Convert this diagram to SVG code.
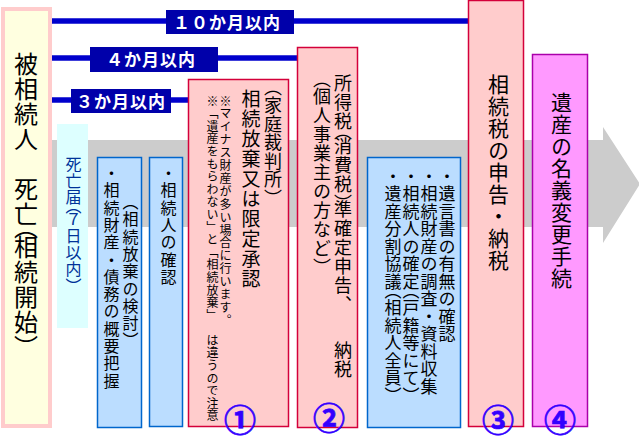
<svg xmlns="http://www.w3.org/2000/svg" width="639" height="439" viewBox="0 0 639 439">
<style>
text{font-family:"Liberation Sans","Noto Sans CJK JP",sans-serif;}
.v{writing-mode:vertical-rl;fill:#000;}
.h{font-feature-settings:"vhal" 1;}
.lbl{fill:#0000AA;}
.lt{fill:#fff;font-size:17px;font-weight:bold;letter-spacing:1px;text-anchor:middle;}
.bar{stroke:#0000CC;stroke-width:5.5;}
.pink{fill:#FFCCCC;stroke:#D4003A;stroke-width:1.5;}
.blue{fill:#BBDDFF;stroke:#0066CC;stroke-width:1.5;}
.num{fill:#3300FF;stroke:#3300FF;stroke-width:0.7;font-size:32px;font-weight:bold;text-anchor:middle;}
</style>
<polygon id="flow-arrow" points="52,140 603,140 603,127 640,184 603,243 603,227 52,227" fill="#CCCCCC"/>
<g id="connectors">
<line class="bar" x1="52" y1="21" x2="468" y2="21"/>
<line class="bar" x1="52" y1="58" x2="297" y2="58"/>
<line class="bar" x1="52" y1="100" x2="188" y2="100"/>
</g>
<g id="limit-10">
<rect class="lbl" x="166" y="10" width="128" height="24"/>
<text class="lt" x="227" y="29">１０か月以内</text>
</g>
<g id="limit-4">
<rect class="lbl" x="90" y="47" width="128" height="25"/>
<text class="lt" x="151" y="66">４か月以内</text>
</g>
<g id="limit-3">
<rect class="lbl" x="71" y="89" width="100" height="24"/>
<text class="lt" x="121" y="108">３か月以内</text>
</g>
<g id="death">
<rect x="3" y="9" width="47" height="417" fill="#FFFFE0" stroke="#FFCCCC" stroke-width="4"/>
<text class="v" x="24" y="52" style="font-size:24px;letter-spacing:1px">被相続人　死亡<tspan class="h" style="letter-spacing:-4px">（</tspan>相続開始<tspan class="h" style="letter-spacing:-4px">）</tspan></text>
</g>
<g id="death-notice">
<rect x="57" y="124" width="31" height="204" fill="#DDFFFF"/>
<text class="v" x="72" y="156" style="font-size:16px;letter-spacing:0.7px;fill:#003399">死亡届<tspan class="h" style="letter-spacing:-3px">（</tspan>７日以内<tspan class="h" style="letter-spacing:-3px">）</tspan></text>
</g>
<g id="estate-overview">
<rect class="blue" x="97.5" y="157.5" width="44" height="270"/>
<text class="v" x="110" y="165" style="font-size:16px;letter-spacing:1.3px">・相続財産・債務の概要把握</text>
<text class="v" x="129" y="202" style="font-size:16px;letter-spacing:1.3px"><tspan class="h">（</tspan>相続放棄の検討<tspan class="h">）</tspan></text>
</g>
<g id="heirs-check">
<rect class="blue" x="149.5" y="157.5" width="33" height="269"/>
<text class="v" x="167" y="165" style="font-size:16px;letter-spacing:1.3px">・相続人の確認</text>
</g>
<g id="step1">
<rect class="pink" x="188.5" y="79.5" width="100" height="347"/>
<text class="v" x="271" y="87" style="font-size:18px;letter-spacing:0.5px"><tspan class="h">（</tspan>家庭裁判所<tspan class="h">）</tspan></text>
<text class="v" x="249" y="89" style="font-size:19px;letter-spacing:1px">相続放棄又は限定承認</text>
<text class="v" x="224" y="95" style="font-size:12px;letter-spacing:0.9px">※マイナス財産が多い場合に行います。</text>
<text class="v" x="211" y="95" style="font-size:12px;letter-spacing:0.6px">※「遺産をもらわない」と「相続放棄」<tspan y="334">は違うので注意</tspan></text>
<text class="num" x="240" y="432">①</text>
</g>
<g id="step2">
<rect class="pink" x="297.5" y="47.5" width="60" height="380"/>
<text class="v" x="341" y="74" style="font-size:18px;letter-spacing:1px">所得税<tspan class="h" style="letter-spacing:-3px">（</tspan>消費税<tspan class="h" style="letter-spacing:-3px">）</tspan>準確定申告、<tspan y="341">納税</tspan></text>
<text class="v" x="320" y="79" style="font-size:18px;letter-spacing:1px"><tspan class="h" style="letter-spacing:-1px">（</tspan>個人事業主の方など<tspan class="h">）</tspan></text>
<text class="num" x="329" y="430">②</text>
</g>
<g id="division">
<rect class="blue" x="367.5" y="157.5" width="93" height="270"/>
<text class="v" x="445" y="168" style="font-size:17px;letter-spacing:0.5px">・遺言書の有無の確認</text>
<text class="v" x="427" y="168" style="font-size:17px;letter-spacing:0.5px">・相続財産の調査・資料収集</text>
<text class="v" x="409" y="168" style="font-size:17px;letter-spacing:0.5px">・相続人の確定<tspan class="h">（</tspan>戸籍等にて<tspan class="h">）</tspan></text>
<text class="v" x="391" y="168" style="font-size:17px;letter-spacing:0.5px">・遺産分割協議<tspan class="h">（</tspan>相続人全員<tspan class="h">）</tspan></text>
</g>
<g id="step3">
<rect class="pink" x="468.5" y="0.5" width="55" height="426"/>
<text class="v" x="497" y="74" style="font-size:21px;letter-spacing:1px">相続税の申告・納税</text>
<text class="num" x="498" y="432">③</text>
</g>
<g id="step4">
<rect x="532.5" y="54.5" width="55" height="372" fill="#FF99FF" stroke="#AA00AA" stroke-width="1.5"/>
<text class="v" x="560" y="92" style="font-size:21px;letter-spacing:1px">遺産の名義変更手続</text>
<text class="num" x="560" y="432">④</text>
</g>
</svg>
